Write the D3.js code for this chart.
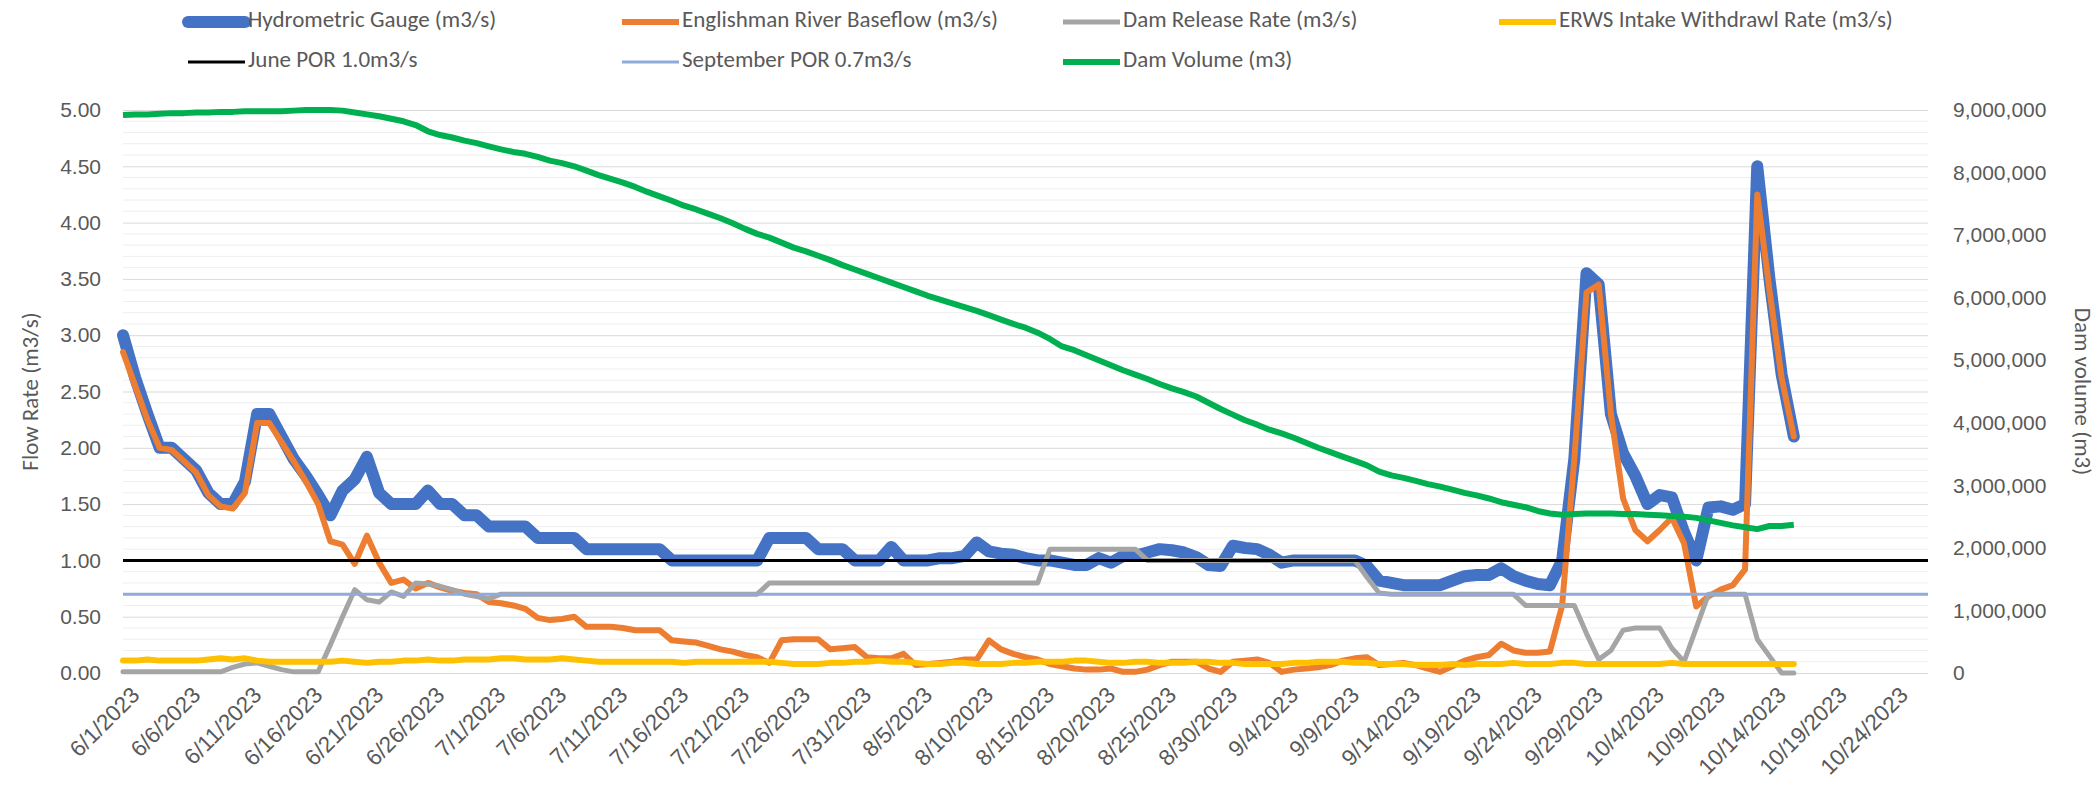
<!DOCTYPE html>
<html>
<head>
<meta charset="utf-8">
<script src="https://cdn.jsdelivr.net/npm/d3@7"></script>
<style>
  body { margin: 0; background: #fff; }
  svg { font-family: Carlito, Lato, "Open Sans", sans-serif; }
</style>
</head>
<body>
<div id="chart"></div>
<script>
// daily readings, 6/1/2023 .. 10/16/2023
const startDate = "2023-06-01";
const endDate = "2023-10-17";

const hydrometric = [
  3.00, 2.62, 2.30, 2.00, 2.00, 1.90, 1.80, 1.60, 1.50, 1.50,
  1.70, 2.30, 2.30, 2.10, 1.90, 1.75, 1.58, 1.40, 1.62, 1.72,
  1.92, 1.60, 1.50, 1.50, 1.50, 1.62, 1.50, 1.50, 1.40, 1.40,
  1.30, 1.30, 1.30, 1.30, 1.20, 1.20, 1.20, 1.20, 1.10, 1.10,
  1.10, 1.10, 1.10, 1.10, 1.10, 1.00, 1.00, 1.00, 1.00, 1.00,
  1.00, 1.00, 1.00, 1.20, 1.20, 1.20, 1.20, 1.10, 1.10, 1.10,
  1.00, 1.00, 1.00, 1.12, 1.00, 1.00, 1.00, 1.02, 1.02, 1.04,
  1.16, 1.08, 1.06, 1.05, 1.02, 1.00, 1.00, 0.98, 0.96, 0.96,
  1.02, 0.98, 1.04, 1.04, 1.07, 1.10, 1.09, 1.07, 1.03, 0.96,
  0.95, 1.13, 1.11, 1.10, 1.05, 0.98, 1.00, 1.00, 1.00, 1.00,
  1.00, 1.00, 0.95, 0.82, 0.80, 0.78, 0.78, 0.78, 0.78, 0.82,
  0.86, 0.87, 0.87, 0.93, 0.86, 0.82, 0.79, 0.78, 1.00, 1.90,
  3.55, 3.45, 2.30, 1.95, 1.75, 1.50, 1.58, 1.56, 1.25, 1.00,
  1.47, 1.48, 1.45, 1.50, 4.50, 3.50, 2.65, 2.10
];

const baseflow = [
  2.85, 2.55, 2.25, 2.00, 1.98, 1.88, 1.78, 1.58, 1.48, 1.46,
  1.60, 2.22, 2.22, 2.05, 1.88, 1.70, 1.50, 1.17, 1.14, 0.97,
  1.22, 0.98, 0.80, 0.83, 0.75, 0.80, 0.76, 0.73, 0.71, 0.70,
  0.63, 0.62, 0.60, 0.57, 0.49, 0.47, 0.48, 0.50, 0.41, 0.41,
  0.41, 0.40, 0.38, 0.38, 0.38, 0.29, 0.28, 0.27, 0.24, 0.21,
  0.19, 0.16, 0.14, 0.09, 0.29, 0.30, 0.30, 0.30, 0.21, 0.22,
  0.23, 0.14, 0.13, 0.13, 0.17, 0.07, 0.08, 0.09, 0.10, 0.12,
  0.12, 0.29, 0.21, 0.17, 0.14, 0.12, 0.08, 0.06, 0.04, 0.03,
  0.03, 0.04, 0.01, 0.01, 0.03, 0.07, 0.10, 0.10, 0.10, 0.04,
  0.01, 0.10, 0.11, 0.12, 0.09, 0.01, 0.03, 0.04, 0.05, 0.07,
  0.11, 0.13, 0.14, 0.07, 0.08, 0.09, 0.07, 0.04, 0.01, 0.06,
  0.11, 0.14, 0.16, 0.26, 0.20, 0.18, 0.18, 0.19, 0.60, 1.90,
  3.38, 3.45, 2.30, 1.55, 1.27, 1.17, 1.27, 1.38, 1.15, 0.59,
  0.68, 0.74, 0.78, 0.92, 4.25, 3.40, 2.62, 2.10
];

const damRelease = [
  0.01, 0.01, 0.01, 0.01, 0.01, 0.01, 0.01, 0.01, 0.01, 0.05,
  0.08, 0.09, 0.06, 0.03, 0.01, 0.01, 0.01, 0.25, 0.50, 0.74,
  0.65, 0.63, 0.72, 0.68, 0.80, 0.79, 0.77, 0.74, 0.70, 0.68,
  0.66, 0.70, 0.70, 0.70, 0.70, 0.70, 0.70, 0.70, 0.70, 0.70,
  0.70, 0.70, 0.70, 0.70, 0.70, 0.70, 0.70, 0.70, 0.70, 0.70,
  0.70, 0.70, 0.70, 0.80, 0.80, 0.80, 0.80, 0.80, 0.80, 0.80,
  0.80, 0.80, 0.80, 0.80, 0.80, 0.80, 0.80, 0.80, 0.80, 0.80,
  0.80, 0.80, 0.80, 0.80, 0.80, 0.80, 1.10, 1.10, 1.10, 1.10,
  1.10, 1.10, 1.10, 1.10, 1.00, 1.00, 1.00, 1.00, 1.00, 1.00,
  1.00, 1.00, 1.00, 1.00, 1.00, 1.00, 1.00, 1.00, 1.00, 1.00,
  1.00, 1.00, 0.85, 0.71, 0.70, 0.70, 0.70, 0.70, 0.70, 0.70,
  0.70, 0.70, 0.70, 0.70, 0.70, 0.60, 0.60, 0.60, 0.60, 0.60,
  0.35, 0.12, 0.20, 0.38, 0.40, 0.40, 0.40, 0.22, 0.10, 0.40,
  0.70, 0.70, 0.70, 0.70, 0.30, 0.15, 0.00, 0.00
];

const intake = [
  0.11, 0.11, 0.12, 0.11, 0.11, 0.11, 0.11, 0.12, 0.13, 0.12,
  0.13, 0.11, 0.10, 0.10, 0.10, 0.10, 0.10, 0.10, 0.11, 0.10,
  0.09, 0.10, 0.10, 0.11, 0.11, 0.12, 0.11, 0.11, 0.12, 0.12,
  0.12, 0.13, 0.13, 0.12, 0.12, 0.12, 0.13, 0.12, 0.11, 0.10,
  0.10, 0.10, 0.10, 0.10, 0.10, 0.10, 0.09, 0.10, 0.10, 0.10,
  0.10, 0.10, 0.10, 0.10, 0.09, 0.08, 0.08, 0.08, 0.09, 0.09,
  0.10, 0.10, 0.11, 0.10, 0.10, 0.09, 0.08, 0.08, 0.09, 0.09,
  0.08, 0.08, 0.08, 0.09, 0.09, 0.10, 0.10, 0.10, 0.11, 0.11,
  0.10, 0.09, 0.09, 0.10, 0.10, 0.09, 0.09, 0.09, 0.10, 0.10,
  0.09, 0.09, 0.08, 0.08, 0.08, 0.08, 0.09, 0.09, 0.10, 0.10,
  0.10, 0.09, 0.09, 0.08, 0.08, 0.08, 0.07, 0.07, 0.07, 0.08,
  0.07, 0.08, 0.08, 0.08, 0.09, 0.08, 0.08, 0.08, 0.09, 0.09,
  0.08, 0.08, 0.08, 0.08, 0.08, 0.08, 0.08, 0.09, 0.08, 0.08,
  0.08, 0.08, 0.08, 0.08, 0.08, 0.08, 0.08, 0.08
];

// dam volume in millions of m3
const damVolume = [
  8.92, 8.93, 8.93, 8.94, 8.95, 8.95, 8.96, 8.96, 8.97, 8.97,
  8.98, 8.98, 8.98, 8.98, 8.99, 9.00, 9.00, 9.00, 8.99, 8.96,
  8.93, 8.90, 8.86, 8.82, 8.76, 8.66, 8.60, 8.56, 8.51, 8.47,
  8.42, 8.37, 8.33, 8.30, 8.25, 8.19, 8.15, 8.10, 8.03, 7.96,
  7.90, 7.84, 7.77, 7.69, 7.62, 7.55, 7.47, 7.41, 7.34, 7.27,
  7.19, 7.10, 7.02, 6.96, 6.88, 6.80, 6.74, 6.67, 6.60, 6.52,
  6.45, 6.38, 6.31, 6.24, 6.17, 6.10, 6.03, 5.97, 5.91, 5.85,
  5.79, 5.72, 5.65, 5.58, 5.52, 5.44, 5.34, 5.22, 5.16, 5.08,
  5.00, 4.92, 4.84, 4.77, 4.70, 4.62, 4.55, 4.49, 4.42, 4.32,
  4.22, 4.13, 4.04, 3.97, 3.89, 3.83, 3.76, 3.68, 3.60, 3.53,
  3.46, 3.39, 3.32, 3.22, 3.16, 3.12, 3.07, 3.02, 2.98, 2.93,
  2.88, 2.84, 2.79, 2.73, 2.69, 2.65, 2.59, 2.55, 2.53, 2.54,
  2.55, 2.55, 2.55, 2.54, 2.54, 2.53, 2.52, 2.51, 2.50, 2.48,
  2.44, 2.40, 2.36, 2.33, 2.30, 2.35, 2.35, 2.37
];

const junePOR = 1.0;
const septPOR = 0.7;

const xTickLabels = [
  "6/1/2023", "6/6/2023", "6/11/2023", "6/16/2023", "6/21/2023", "6/26/2023",
  "7/1/2023", "7/6/2023", "7/11/2023", "7/16/2023", "7/21/2023", "7/26/2023",
  "7/31/2023", "8/5/2023", "8/10/2023", "8/15/2023", "8/20/2023", "8/25/2023",
  "8/30/2023", "9/4/2023", "9/9/2023", "9/14/2023", "9/19/2023", "9/24/2023",
  "9/29/2023", "10/4/2023", "10/9/2023", "10/14/2023", "10/19/2023", "10/24/2023"
];

const seriesNames = [
  "Hydrometric Gauge (m3/s)", "Englishman River Baseflow (m3/s)",
  "Dam Release Rate (m3/s)", "ERWS Intake Withdrawl Rate (m3/s)",
  "June POR 1.0m3/s", "September POR 0.7m3/s", "Dam Volume (m3)"
];

const W = 2100, H = 787;
const plot = { left: 123, right: 1928, top: 110, bottom: 673 };

const parse = d3.timeParse("%Y-%m-%d");
const parseTick = d3.timeParse("%m/%d/%Y");
const dates = d3.timeDay.range(parse(startDate), parse(endDate));

const x = d3.scaleTime()
  .domain([parse("2023-06-01"), parse("2023-10-27")])
  .range([plot.left, plot.right]);
const y = d3.scaleLinear().domain([0, 5]).range([plot.bottom, plot.top]);
const y2 = d3.scaleLinear().domain([0, 9000000]).range([plot.bottom, plot.top]);

const svg = d3.select("#chart").append("svg")
  .attr("width", W).attr("height", H);

// gridlines, minor every 0.1, major every 0.5
svg.append("g")
  .selectAll("line")
  .data(d3.range(0, 51).map(i => i / 10).filter(v => Math.round(v * 10) % 5 != 0))
  .enter().append("line")
  .attr("x1", plot.left).attr("x2", plot.right)
  .attr("y1", d => y(d)).attr("y2", d => y(d))
  .attr("stroke", "#eeeeee").attr("stroke-width", 1);

svg.append("g")
  .attr("transform", `translate(${plot.left},0)`)
  .call(d3.axisLeft(y).tickValues(d3.range(0, 5.01, 0.5))
    .tickSize(-(plot.right - plot.left)).tickFormat(d3.format(".2f")).tickPadding(22))
  .call(g => g.select(".domain").remove())
  .call(g => g.selectAll(".tick line").attr("stroke", "#d9d9d9"))
  .call(g => g.selectAll("text").attr("fill", "#595959").style("font-size", "21px"));

svg.append("g")
  .attr("transform", `translate(${plot.right},0)`)
  .call(d3.axisRight(y2).ticks(9).tickSize(0).tickFormat(d3.format(",")).tickPadding(25))
  .call(g => g.select(".domain").remove())
  .call(g => g.selectAll("text").attr("fill", "#595959").style("font-size", "21px"));

svg.append("g")
  .attr("transform", `translate(0,${plot.bottom})`)
  .call(d3.axisBottom(x).tickValues(xTickLabels.map(parseTick)).tickSize(0)
    .tickFormat(d3.timeFormat("%-m/%-d/%Y")))
  .call(g => g.select(".domain").remove())
  .selectAll("text")
  .attr("fill", "#595959").style("font-size", "22.5px")
  .attr("text-anchor", "end")
  .attr("transform", "translate(4,10)rotate(-45)");

// axis titles
svg.append("text")
  .attr("transform", `translate(33,${(plot.top + plot.bottom) / 2})rotate(-90)`)
  .attr("text-anchor", "middle").attr("dominant-baseline", "middle")
  .attr("fill", "#595959").style("font-size", "23px")
  .text("Flow Rate (m3/s)");

svg.append("text")
  .attr("transform", `translate(2080,${(plot.top + plot.bottom) / 2})rotate(90)`)
  .attr("text-anchor", "middle").attr("dominant-baseline", "middle")
  .attr("fill", "#595959").style("font-size", "23px")
  .text("Dam volume (m3)");

const line = d3.line().x((d, i) => x(dates[i])).y(d => y(d));
const volLine = d3.line().x((d, i) => x(dates[i])).y(d => y2(d * 1e6));

const colors = ["#4472C4", "#ED7D31", "#A5A5A5", "#FFC000", "#000000", "#8FAADC", "#00B050"];
const widths = [12, 6, 5, 6, 3, 3, 6];

const flowSeries = [hydrometric, baseflow, damRelease, intake];
flowSeries.forEach((s, k) => {
  svg.append("path")
    .datum(s)
    .attr("d", line)
    .attr("fill", "none")
    .attr("stroke", colors[k])
    .attr("stroke-width", widths[k])
    .attr("stroke-linejoin", "round")
    .attr("stroke-linecap", "round");
});

// POR reference lines across the whole plot
[junePOR, septPOR].forEach((v, k) => {
  svg.append("line")
    .attr("x1", plot.left).attr("x2", plot.right)
    .attr("y1", y(v)).attr("y2", y(v))
    .attr("stroke", colors[4 + k]).attr("stroke-width", widths[4 + k]);
});

svg.append("path")
  .datum(damVolume)
  .attr("d", volLine)
  .attr("fill", "none")
  .attr("stroke", colors[6])
  .attr("stroke-width", widths[6])
  .attr("stroke-linejoin", "round");

// legend, two rows
const legendX = [188, 622, 1063, 1499];
const legendY = [22, 62];
const legend = svg.append("g");
seriesNames.forEach((name, i) => {
  const row = i < 4 ? 0 : 1;
  const col = i < 4 ? i : (i == 6 ? 2 : i - 4);
  const g = legend.append("g")
    .attr("transform", `translate(${legendX[col]},${legendY[row]})`);
  g.append("line")
    .attr("x1", 0).attr("x2", 57).attr("y1", 0).attr("y2", 0)
    .attr("stroke", colors[i]).attr("stroke-width", widths[i])
    .attr("stroke-linecap", i == 0 ? "round" : "butt");
  g.append("text")
    .attr("x", 60).attr("y", 0).attr("dominant-baseline", "middle")
    .attr("fill", "#595959").style("font-size", "23px")
    .text(name);
});
</script>
</body>
</html>
